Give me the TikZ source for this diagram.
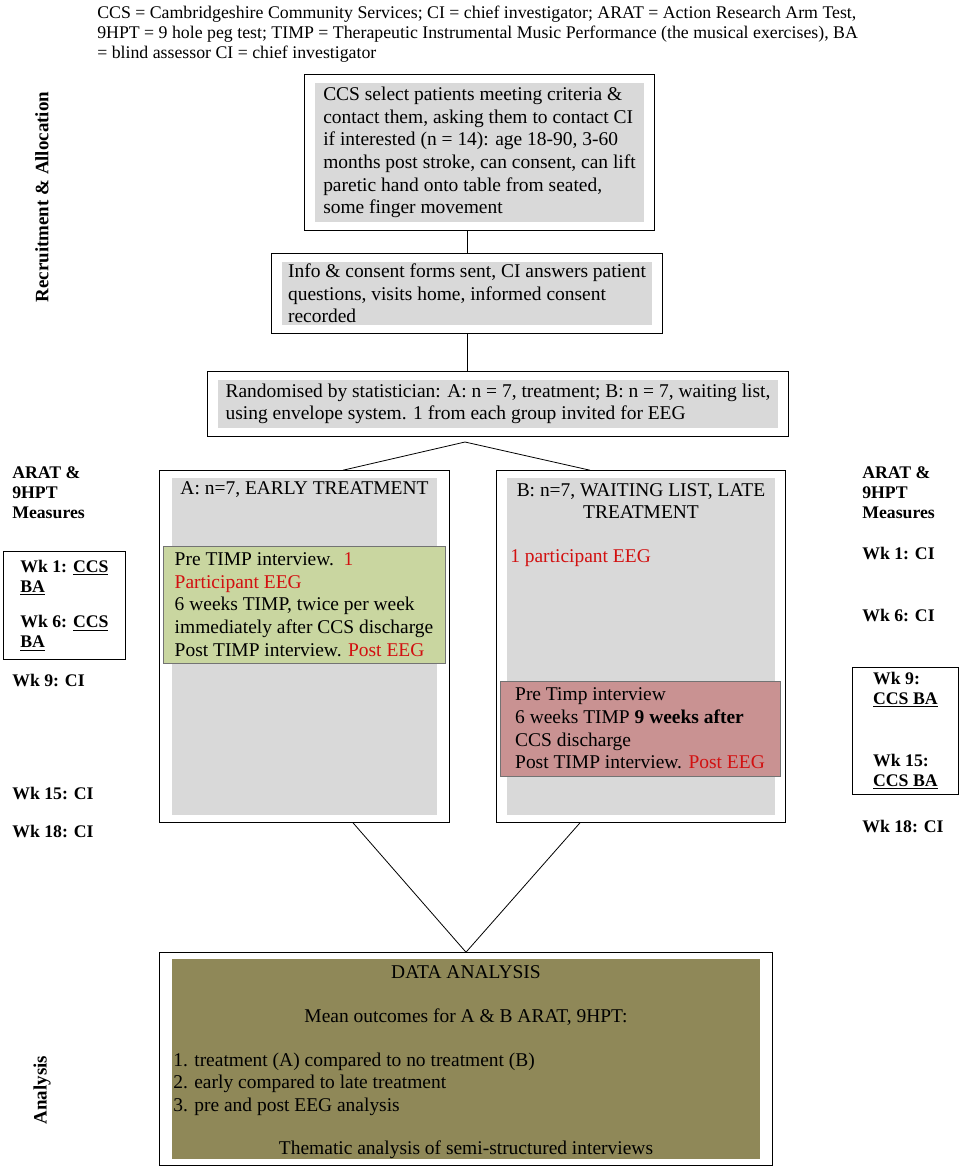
\documentclass[tikz,border=0pt]{standalone}
\usepackage{fontspec}
\setmainfont{Liberation Serif}
\usepackage{xcolor}
\usepackage{tikz}
\usetikzlibrary{positioning,fit,calc}
\definecolor{cellgray}{RGB}{217,217,217}
\definecolor{earlygreen}{RGB}{201,214,160}
\definecolor{latered}{RGB}{201,146,146}
\definecolor{analysisolive}{RGB}{143,136,88}
\definecolor{eegred}{RGB}{210,16,16}
\newcommand{\pxl}{0.75pt}
\newcommand{\cellfont}{\fontsize{14.6}{17}\selectfont}
\newcommand{\headfont}{\fontsize{13.35}{15}\selectfont}
\newcommand{\sidefont}{\fontsize{13.3}{15}\selectfont\bfseries}
\newcommand{\eeg}[1]{\textcolor{eegred}{#1}}

\begin{document}
\begin{tikzpicture}[
        x=0.75pt, y=-0.75pt,
        cell/.style={fill=cellgray, inner xsep=3*\pxl, inner ysep=0pt, align=left, font=\cellfont},
        outerbox/.style={draw, line width=0.8pt, inner xsep=10*\pxl, inner ysep=8*\pxl},
        timp/.style={draw=black!55, fill=#1, inner xsep=10*\pxl, inner ysep=0pt, align=left, font=\cellfont},
        plain/.style={inner sep=0pt, align=left, font=\cellfont},
        side/.style={inner sep=0pt, align=left, font=\sidefont},
        sidebox/.style={draw, line width=0.6pt, inner xsep=10*\pxl, inner ysep=2*\pxl, align=left, font=\sidefont},
        link/.style={line width=0.6pt}
    ]
        \fill[white] (0,0) rectangle (964,1172);
        \useasboundingbox (0,0) rectangle (964,1172);

        \node[plain, font=\headfont, anchor=north west] (legend) at (97,6) {CCS = Cambridgeshire Community Services; CI = chief investigator; ARAT = Action Research Arm Test,\\9HPT = 9 hole peg test; TIMP = Therapeutic Instrumental Music Performance (the musical exercises), BA\\= blind assessor CI = chief investigator};

        \node[side, rotate=90] (recruitlabel) at (42,197) {\fontsize{14.2}{16}\selectfont Recruitment \& Allocation};
        \node[side, rotate=90] (analysislabel) at (42,1090) {\fontsize{14.2}{16}\selectfont Analysis};

        \node[cell, minimum width=329*\pxl, minimum height=139*\pxl] (selectcell) at (479.5,152.5) {CCS select patients meeting criteria \&\\contact them, asking them to contact CI\\if interested (n = 14): age 18-90, 3-60\\months post stroke, can consent, can lift\\paretic hand onto table from seated,\\some finger movement};
        \node[outerbox, fit=(selectcell)] (selectbox) {};

        \node[cell, minimum width=370*\pxl, minimum height=63*\pxl] (consentcell) at (467,293.5) {Info \& consent forms sent, CI answers patient\\questions, visits home, informed consent\\recorded};
        \node[outerbox, fit=(consentcell)] (consentbox) {};

        \node[cell, minimum width=560*\pxl, minimum height=48*\pxl] (randomcell) at (498,404) {Randomised by statistician: A: n = 7, treatment; B: n = 7, waiting list,\\using envelope system. 1 from each group invited for EEG};
        \node[outerbox, fit=(randomcell)] (randombox) {};
        \coordinate (fork) at (465,442);

        \node[cell, minimum width=265*\pxl, minimum height=337*\pxl] (earlycell) at (304.5,646.5) {};
        \node[outerbox, fit=(earlycell), inner xsep=12*\pxl, inner ysep=7*\pxl] (earlybox) {};
        \node[plain] (earlytitle) at (304.5,490) {A: n=7, EARLY TREATMENT};
        \node[timp=earlygreen, minimum width=282*\pxl, minimum height=117*\pxl] (earlytimp) at (304,604.5) {Pre TIMP interview.\ \ \eeg{1}\\\eeg{Participant EEG}\\6 weeks TIMP, twice per week\\immediately after CCS discharge\\Post TIMP interview. \eeg{Post EEG}};

        \node[cell, minimum width=268*\pxl, minimum height=337*\pxl] (latecell) at (641,646.5) {};
        \node[outerbox, fit=(latecell), inner ysep=7*\pxl] (latebox) {};
        \node[plain, align=center] (latetitle) at (641,501) {B: n=7, WAITING LIST, LATE\\TREATMENT};
        \node[plain, anchor=west] (lateeeg) at (510,558) {\eeg{1 participant EEG}};
        \node[timp=latered, minimum width=280*\pxl, minimum height=95*\pxl] (latetimp) at (640,728.5) {Pre Timp interview\\6 weeks TIMP \textbf{9 weeks after}\\CCS discharge\\Post TIMP interview. \eeg{Post EEG}};

        \node[cell, fill=analysisolive, minimum width=588*\pxl, minimum height=200*\pxl] (analysiscell) at (466,1059) {};
        \node[outerbox, fit=(analysiscell), inner xsep=12*\pxl, inner ysep=6*\pxl] (analysisbox) {};
        \node[plain] (datatitle) at (466,972) {DATA ANALYSIS};
        \node[plain] (meanline) at (466,1017) {Mean outcomes for A \& B ARAT, 9HPT:};
        \node[plain, anchor=west] (comparisons) at (173,1084) {1. treatment (A) compared to no treatment (B)\\2. early compared to late treatment\\3. pre and post EEG analysis};
        \node[plain] (thematic) at (466,1150) {Thematic analysis of semi-structured interviews};

        \node[side, anchor=west] (leftmeasures) at (12,493) {ARAT \&\\9HPT\\Measures};
        \node[sidebox, anchor=north west, minimum width=122*\pxl, minimum height=108*\pxl] (leftccs) at (3,551) {Wk 1: \underline{CCS}\\\underline{BA}\\[11.5pt]Wk 6: \underline{CCS}\\\underline{BA}};
        \node[side, anchor=west] (leftwknine) at (12,680) {Wk 9: CI};
        \node[side, anchor=west] (leftwkfifteen) at (12,793) {Wk 15: CI};
        \node[side, anchor=west] (leftwkeighteen) at (12,831) {Wk 18: CI};

        \node[side, anchor=west] (rightmeasures) at (862,493) {ARAT \&\\9HPT\\Measures};
        \node[side, anchor=west] (rightwkone) at (862,553) {Wk 1: CI};
        \node[side, anchor=west] (rightwksix) at (862,615) {Wk 6: CI};
        \node[sidebox, anchor=north west, minimum width=106*\pxl, minimum height=127*\pxl] (rightccs) at (852,667) {Wk 9:\\\underline{CCS BA}\\[31.5pt]Wk 15:\\\underline{CCS BA}};
        \node[side, anchor=west] (rightwkeighteen) at (862,826) {Wk 18: CI};

        \draw[link] (selectbox.south -| consentbox.north) -- (consentbox.north);
        \draw[link] (consentbox.south) -- (randombox.north -| consentbox.south);
        \draw[link] ($(earlybox.north)+(38.5,0)$) -- (fork) -- ($(latebox.north)+(-51,0)$);
        \draw[link] ($(earlybox.south)+(48.5,0)$) -- (analysisbox.north) -- ($(latebox.south)+(-61,0)$);
    \end{tikzpicture}
\end{document}
